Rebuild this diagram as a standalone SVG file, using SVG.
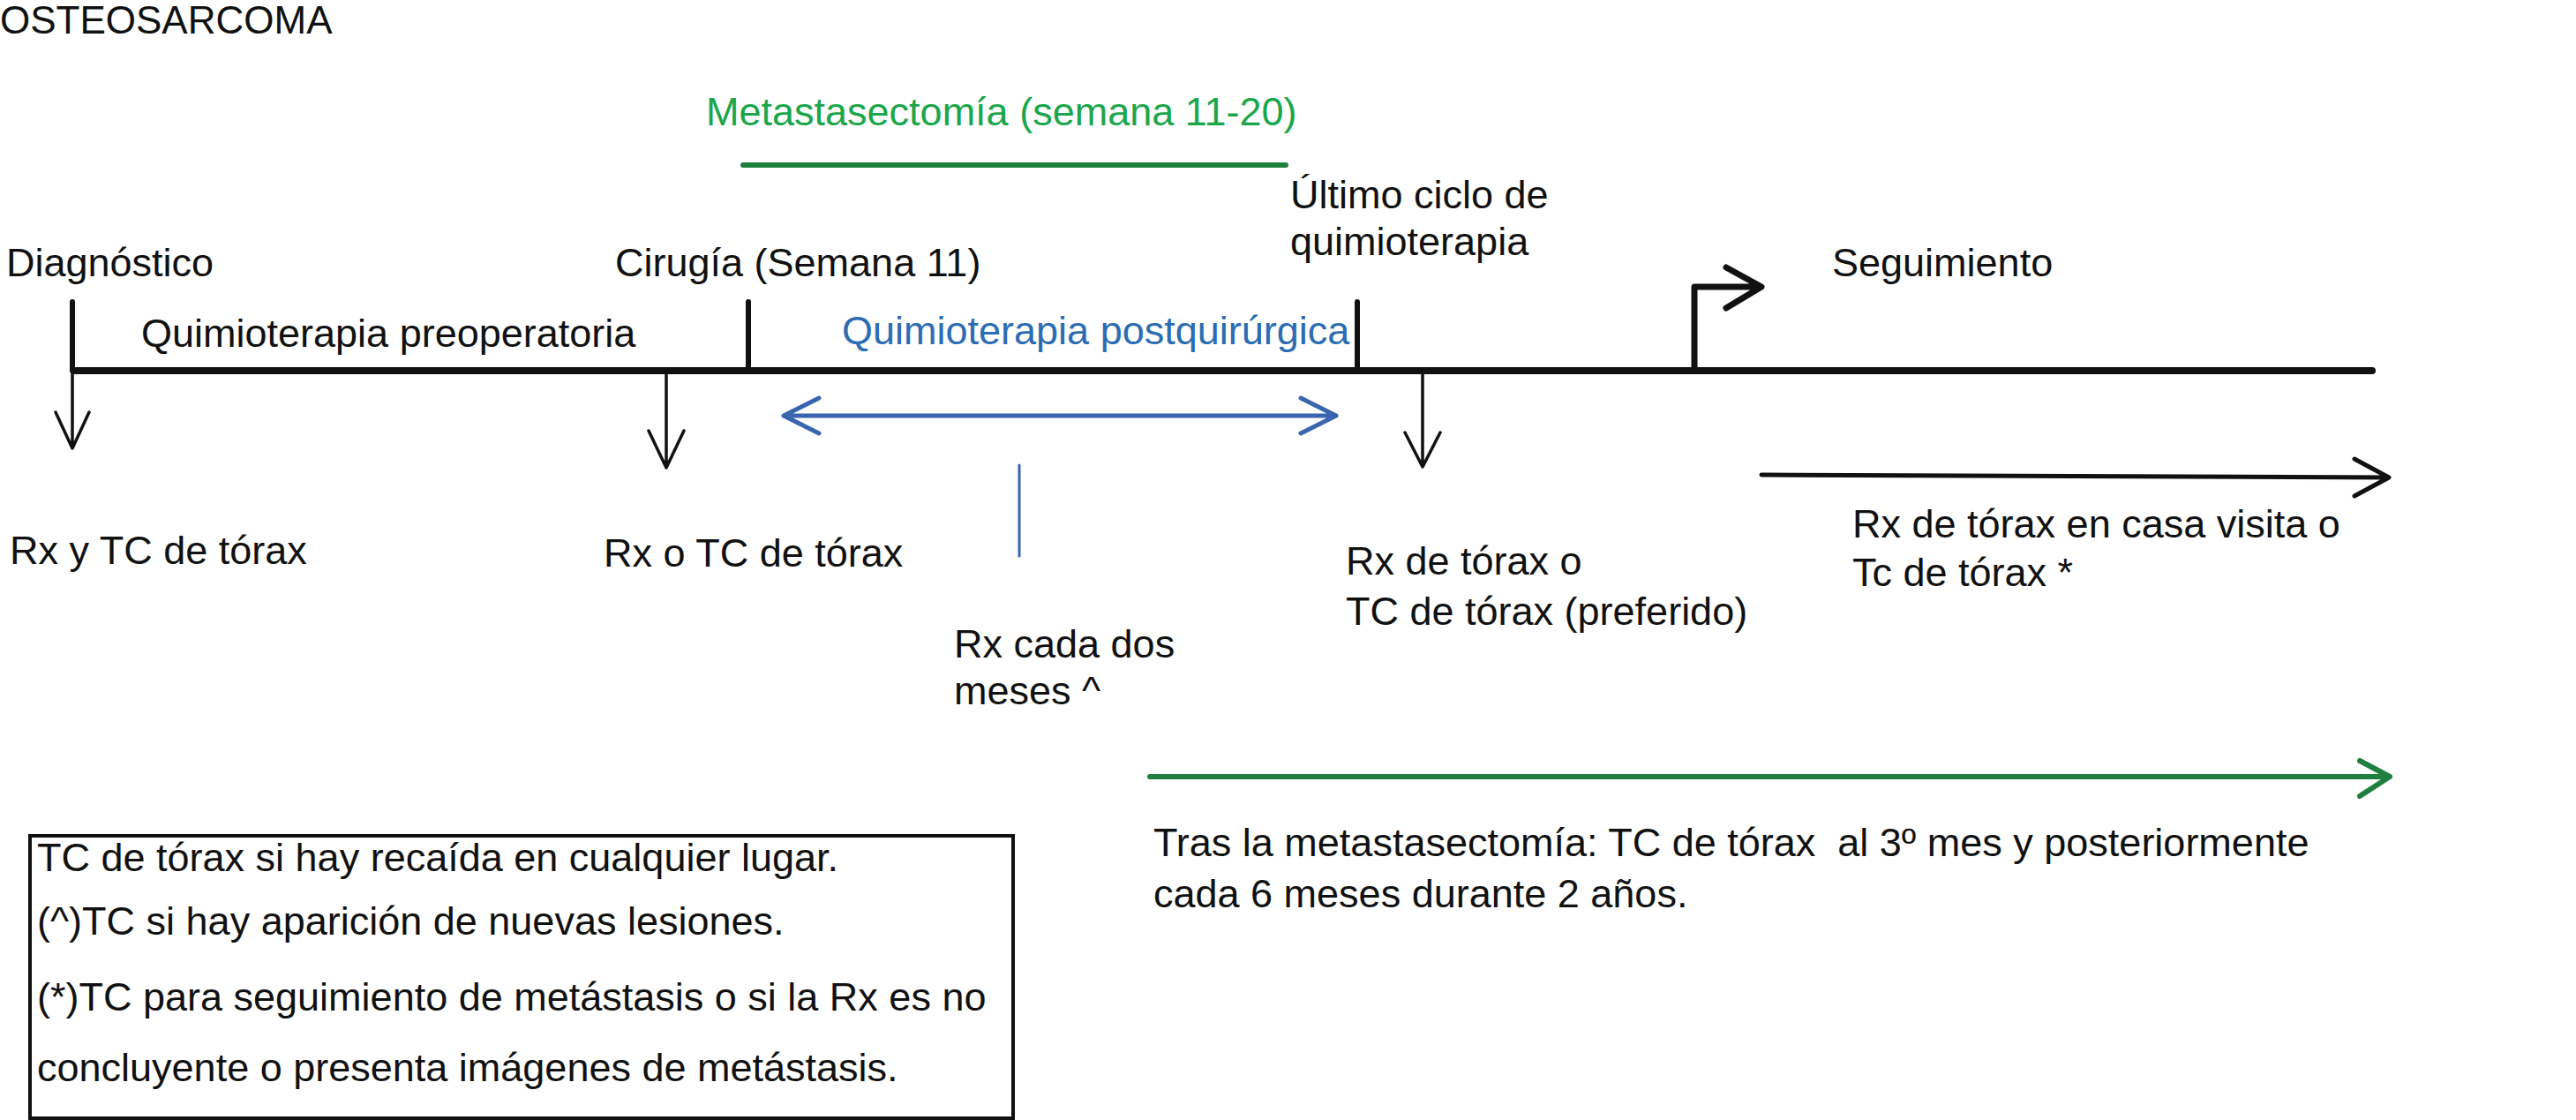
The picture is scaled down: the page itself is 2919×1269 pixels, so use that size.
<svg xmlns="http://www.w3.org/2000/svg" width="2919" height="1269" viewBox="0 0 2919 1269">
<style>
text{font-family:"Liberation Sans",Arial,Helvetica,sans-serif;font-size:45px;fill:#111}
.box{font-size:45px}
.green{fill:#1aa64a}
.blue{fill:#2b6cb3}
.k{stroke:#111;fill:none;stroke-linecap:round;stroke-linejoin:round}
.thin{stroke-width:3.5}
.tick{stroke-width:6}
.bl{stroke:#3a64b0;fill:none;stroke-linecap:round;stroke-linejoin:round}
.gr{stroke:#1e7f3e;fill:none;stroke-linecap:round;stroke-linejoin:round;stroke-width:6}
</style>
<rect width="2919" height="1269" fill="#fff"/>
<text id="title" x="0" y="38" style="font-size:44px">OSTEOSARCOMA</text>
<g id="metastasectomia">
<text class="green" x="800" y="142">Metastasectomía (semana 11-20)</text>
<line class="gr" x1="842" y1="187" x2="1457" y2="187"/>
</g>
<g id="diagnostico">
<text x="7" y="313">Diagnóstico</text>
<line class="k tick" x1="82" y1="342" x2="82" y2="420"/>
</g>
<g id="cirugia">
<text x="697" y="313">Cirugía (Semana 11)</text>
<line class="k tick" x1="848" y1="342" x2="848" y2="420"/>
</g>
<g id="ultimo">
<text x="1462" y="236">Último ciclo de</text>
<text x="1462" y="289">quimioterapia</text>
<line class="k tick" x1="1538" y1="342" x2="1538" y2="420"/>
</g>
<g id="seguimiento">
<text x="2076" y="313">Seguimiento</text>
</g>
<g id="preop"><text x="160" y="393">Quimioterapia preoperatoria</text></g>
<g id="postq"><text class="blue" x="954" y="390">Quimioterapia postquirúrgica</text></g>
<g id="rx1"><text x="11" y="639">Rx y TC de tórax</text></g>
<g id="rx2"><text x="684" y="642">Rx o TC de tórax</text></g>
<g id="rx3"><text x="1081" y="745">Rx cada dos</text><text x="1081" y="798">meses ^</text></g>
<g id="rx4"><text x="1525" y="651">Rx de tórax o</text><text x="1525" y="708">TC de tórax (preferido)</text></g>
<g id="rx5"><text x="2099" y="609">Rx de tórax en casa visita o</text><text x="2099" y="664">Tc de tórax *</text></g>
<g id="tras"><text x="1307" y="970" style="white-space:pre">Tras la metastasectomía: TC de tórax  al 3º mes y posteriormente</text><text x="1307" y="1028">cada 6 meses durante 2 años.</text></g>
<g id="nota">
<rect x="34" y="947" width="1114" height="320" fill="none" stroke="#111" stroke-width="4"/>
<text class="box" x="42" y="987">TC de tórax si hay recaída en cualquier lugar.</text>
<text class="box" x="42" y="1059">(^)TC si hay aparición de nuevas lesiones.</text>
<text class="box" x="42" y="1145">(*)TC para seguimiento de metástasis o si la Rx es no</text>
<text class="box" x="42" y="1225">concluyente o presenta imágenes de metástasis.</text>
</g>
<g id="connectors">
<path class="k" d="M82,420 H2688" stroke-width="8" style="stroke-linecap:butt"/>
<path class="k" d="M2684,420 H2688" stroke-width="8"/>
<path class="k thin" d="M82,420 V508 M63,467 L82,508 L101,467"/>
<path class="k thin" d="M755,420 V530 M735,488 L755,530 L775,488"/>
<path class="k thin" d="M1612,420 V529 M1592,490 L1612,529 L1632,490"/>
<path class="k" stroke-width="7" d="M1920,420 V325 H1994 M1956,303 L1996,325 L1956,349"/>
<path class="bl" stroke-width="5" d="M888,471 H1514 M928,451 L888,471 L928,491 M1474,451 L1514,471 L1474,491"/>
<path class="bl" stroke-width="3" d="M1155,527 V630"/>
<path class="k" stroke-width="5" d="M1996,538 L2706,541 M2668,520 L2707,541 L2668,562"/>
<path class="gr" d="M1303,880 H2708 M2674,862 L2708,880 L2674,902"/>
</g>
</svg>
